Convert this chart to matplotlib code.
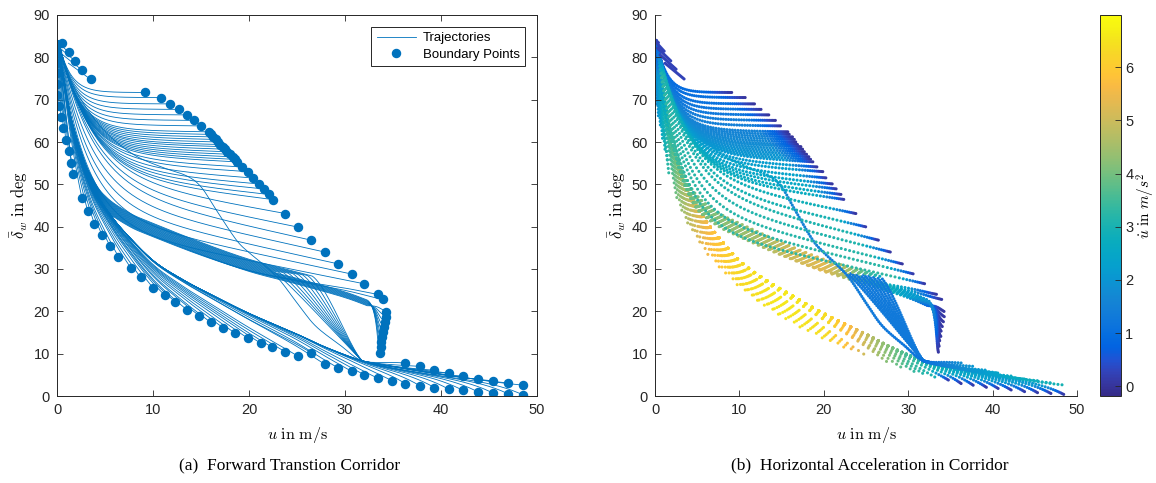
import numpy as np
import matplotlib
matplotlib.use("Agg")
import matplotlib.pyplot as plt
from matplotlib.colors import LinearSegmentedColormap

# ---------------------------------------------------------------- data
start_u, start_d = 0.15, 83.8

# short trajectories at the top-left (start and end)
short_start_u = [0.0, 0.1, 0.3, 0.6, 1.2]
short_start_d = [84.2, 83.6, 82.2, 80.6, 78.6]
short_u = [0.5, 1.2, 1.9, 2.6, 3.5]
short_d = [83.3, 81.2, 79.1, 77.0, 74.8]

# upper fan of trajectories (end points on the upper boundary)
fan_u = [9.2, 10.8, 11.8, 12.7, 13.5, 14.3, 15.0, 15.8, 16.0, 16.3, 16.6, 16.8, 17.0, 17.3,
         17.5, 17.7, 18.0, 18.3, 18.5, 18.8, 19.3, 19.9, 20.4, 21.0, 21.6, 22.1, 22.5,
         23.8, 25.1, 26.5, 27.9, 29.3, 30.7, 32.0]
fan_d = [71.7, 70.5, 69.0, 67.7, 66.4, 65.1, 63.8, 62.4, 61.8, 61.2, 60.6, 60.0, 59.4, 58.9,
         58.3, 57.7, 57.1, 56.5, 55.9, 55.3, 54.1, 53.0, 51.5, 50.1, 48.9, 47.6, 46.4,
         43.1, 39.9, 36.8, 34.0, 31.2, 28.8, 26.5]

# trajectories of the middle band
bandend_u = [33.4, 34.0]
bandend_d = [24.0, 22.8]
cluster_u = [34.3, 34.3, 34.2, 34.1, 34.0, 33.9, 33.8, 33.7, 33.6]
cluster_d = [19.9, 18.7, 17.5, 16.3, 15.1, 14.0, 12.8, 11.6, 10.2]
right_u = [36.3, 37.8, 39.3, 40.8, 42.3, 43.9, 45.4, 47.0, 48.5]
right_d = [7.8, 7.0, 6.1, 5.4, 4.7, 4.0, 3.6, 3.1, 2.6]
cross_branch_u = [22.6, 23.1, 23.6, 24.1, 24.6, 25.1, 25.6, 26.1, 26.6]

# lower boundary end points
low_u = [0.0, 0.0, 0.0, 0.0, 0.0, 0.2, 0.4, 0.65, 0.9, 1.2, 1.5, 1.65, 2.6, 3.2, 3.9, 4.7,
         5.5, 6.4, 7.7, 8.7, 10.0, 11.2, 12.3, 13.5, 14.8, 16.0, 17.3, 18.5, 19.9, 21.2,
         22.4, 23.8, 25.1, 26.5, 27.9, 29.3, 30.7, 32.0, 33.4, 34.9, 36.3, 37.8, 39.3,
         40.8, 42.3, 43.9, 45.4, 47.0, 48.5]
low_d = [81.3, 78.7, 76.4, 73.7, 71.1, 68.5, 66.0, 63.4, 60.5, 57.9, 55.1, 52.4, 46.7, 43.7,
         40.7, 38.0, 35.5, 32.9, 30.2, 28.0, 25.6, 23.9, 22.3, 20.4, 19.0, 17.4, 16.1, 14.9,
         13.6, 12.5, 11.5, 10.4, 9.4, 10.2, 7.5, 6.6, 5.8, 5.0, 4.2, 3.6, 2.9, 2.4, 2.0,
         1.6, 1.3, 0.9, 0.7, 0.5, 0.3]

# one trajectory that leaves the fan and crosses down to the lower band
special_u = [0.15, 1.0, 2.5, 5.0, 8.0, 11.0, 13.5, 15.0, 16.6, 18.7, 20.1, 21.8, 23.2,
             25.3, 27.0, 29.5, 31.8, 35.0, 40.8]
special_d = [83.8, 77.0, 70.0, 62.5, 57.0, 54.0, 52.0, 49.4, 43.9, 36.8, 33.7, 30.5, 27.4,
             21.1, 16.4, 12.0, 8.3, 7.0, 5.4]

# guide curves of the lower and middle bundles
glow_u = [0.15, 0.4, 0.7, 1.0, 1.5, 2.2, 3.0, 4.0, 5.5, 7.0, 10, 13, 16, 20, 25, 28,
          31.8, 35, 40, 45, 49]
glow_d = [83.8, 79.0, 75.0, 71.0, 65.0, 58.5, 53.0, 48.0, 43.0, 38.8, 32.0, 27.6, 24.0,
          19.5, 14.6, 11.5, 8.3, 6.6, 4.9, 3.7, 2.9]
gmid_u = [0.15, 0.5, 0.9, 1.5, 2.5, 3.5, 5.0, 7.5, 10, 15, 20, 25, 30, 33.3, 34.5]
gmid_d = [83.8, 77.0, 72.0, 65.0, 57.0, 51.0, 45.5, 41.5, 39.0, 34.5, 30.5, 27.5, 24.3,
          21.5, 20.5]

# acceleration read along the bundles (colour of the right panel)
lowacc_u = [0, 1, 2, 3, 5, 7, 10, 15, 20, 23, 26, 30, 35, 40, 49]
lowacc_a = [1.5, 2.8, 3.6, 4.3, 5.2, 5.8, 6.3, 6.6, 6.4, 5.7, 4.6, 3.5, 2.6, 2.2, 2.0]
midacc_u = [0, 2, 5, 8, 12, 16, 20, 23, 26, 30, 34]
midacc_a = [1.5, 3.3, 4.0, 4.2, 4.5, 5.0, 5.3, 4.5, 3.2, 2.3, 1.6]
fanacc_d = [26, 40, 50, 60, 72]
fanacc_a = [3.3, 3.0, 2.5, 1.7, 0.9]
crossacc_u = [31.8, 36, 42, 49]
crossacc_a = [1.0, 1.8, 2.6, 3.0]

# shape of the fan trajectories as function of end angle
fanshape_d = [26, 30, 37, 43, 47, 52, 58, 64, 72]
fanshape_s = [0.45, 0.5, 0.5, 0.4, 0.25, 0.15, 0.07, 0.02, 0.0]
fanshape_t = [2.8, 3.0, 3.5, 3.5, 3.4, 3.0, 2.4, 1.8, 1.2]

# how late each lower trajectory leaves the lower bundle
lowshape_u = [0.6, 2, 10, 25, 30, 34, 36, 49]
lowshape_p = [1.0, 1.05, 1.15, 1.8, 4.0, 7.0, 12.0, 16.0]

clim = (-0.18, 6.98)
cb_ticks = [0, 1, 2, 3, 4, 5, 6]
xticks = [0, 10, 20, 30, 40, 50]
yticks = [0, 10, 20, 30, 40, 50, 60, 70, 80, 90]

# ---------------------------------------------------------------- helpers
parula_anchor = [
    (0.2081, 0.1663, 0.5292), (0.2123, 0.2138, 0.6270), (0.1959, 0.2645, 0.7279),
    (0.1253, 0.3242, 0.8303), (0.0117, 0.3875, 0.8820), (0.0165, 0.4266, 0.8786),
    (0.0498, 0.4586, 0.8641), (0.0723, 0.4887, 0.8467), (0.0793, 0.5200, 0.8312),
    (0.0641, 0.5570, 0.8240), (0.0343, 0.5966, 0.8199), (0.0239, 0.6287, 0.8038),
    (0.0228, 0.6535, 0.7768), (0.0384, 0.6743, 0.7436), (0.0843, 0.6928, 0.7062),
    (0.1453, 0.7098, 0.6646), (0.2178, 0.7250, 0.6193), (0.3022, 0.7376, 0.5712),
    (0.3953, 0.7459, 0.5244), (0.4871, 0.7491, 0.4840), (0.5709, 0.7485, 0.4494),
    (0.6473, 0.7456, 0.4188), (0.7184, 0.7411, 0.3905), (0.7858, 0.7356, 0.3633),
    (0.8507, 0.7299, 0.3360), (0.9139, 0.7258, 0.3063), (0.9739, 0.7314, 0.2666),
    (0.9990, 0.7653, 0.2164), (0.9880, 0.8066, 0.1794), (0.9697, 0.8481, 0.1475),
    (0.9589, 0.8949, 0.1132), (0.9661, 0.9514, 0.0755), (0.9763, 0.9831, 0.0538)]
parula = LinearSegmentedColormap.from_list("parula", parula_anchor)

PXU, PXD = 8.44, 4.233   # pixel per unit (for dot spacing)


def catmull(x, y, n=20):
    P = np.column_stack([x, y]).astype(float)
    P = np.vstack([2 * P[0] - P[1], P, 2 * P[-1] - P[-2]])
    out = []
    t = np.linspace(0, 1, n, endpoint=False)[:, None]
    for i in range(1, len(P) - 2):
        p0, p1, p2, p3 = P[i - 1], P[i], P[i + 1], P[i + 2]
        out.append(0.5 * ((2 * p1) + (-p0 + p2) * t + (2 * p0 - 5 * p1 + 4 * p2 - p3) * t ** 2
                          + (-p0 + 3 * p1 - 3 * p2 + p3) * t ** 3))
    out.append(P[-2][None])
    return np.vstack(out)


def guide(us, ds):
    c = catmull(us, ds)
    order = np.argsort(c[:, 0])
    cu, cd = c[order, 0], c[order, 1]
    return lambda u: np.interp(u, cu, cd)


def bez(p0, p1, p2, p3, n=60):
    t = np.linspace(0, 1, n)[:, None]
    p0, p1, p2, p3 = map(np.asarray, (p0, p1, p2, p3))
    return (1 - t) ** 3 * p0 + 3 * (1 - t) ** 2 * t * p1 + 3 * (1 - t) * t ** 2 * p2 + t ** 3 * p3


def ugrid(u0, u1, n=220):
    t = np.linspace(0, 1, n)
    return u0 + (u1 - u0) * t ** 1.6


def start_ramp(d):
    return np.clip((start_d - d) / 8.0, 0.3, 1.0)


def arclen(path):
    seg = np.hypot(np.diff(path[:, 0]) * PXU, np.diff(path[:, 1]) * PXD)
    s = np.concatenate([[0], np.cumsum(seg)])
    return s, s[-1] - s


G_low = guide(glow_u, glow_d)
G_mid = guide(gmid_u, gmid_d)

trajs = []   # (path, acc)

# lower family
for xe, ye in zip(low_u, low_d):
    if xe < 0.5:
        path = np.column_stack([np.linspace(start_u, xe, 30), np.linspace(start_d, ye, 30)])
    else:
        u = ugrid(start_u, xe)
        p = np.interp(xe, lowshape_u, lowshape_p)
        d = G_low(u) + (ye - G_low(xe)) * ((u - start_u) / (xe - start_u)) ** p
        path = np.column_stack([u, d])
    a = np.interp(path[:, 0], lowacc_u, lowacc_a) * start_ramp(path[:, 1])
    if xe > 34.5:
        _, rem = arclen(path)
        a = a * np.clip(rem / 22.0, 0.03, 1.0)
    trajs.append((path, a))

# middle band family
offs = np.linspace(-1.4, 1.8, len(bandend_u) + len(cluster_u) + len(cross_branch_u))
k = 0
for xe, ye in zip(bandend_u, bandend_d):
    u = ugrid(start_u, xe)
    off = offs[k] * np.clip(u / 5, 0, 1)
    d = G_mid(u) + off + (ye - G_mid(xe) - offs[k]) * ((u - start_u) / (xe - start_u)) ** 4
    k += 1
    path = np.column_stack([u, d])
    a = np.interp(u, midacc_u, midacc_a) * start_ramp(d)
    _, rem = arclen(path)
    a = a * np.clip(rem / 30.0, 0.05, 1.0)
    trajs.append((path, a))

for xe, ye in zip(cluster_u, cluster_d):
    u = ugrid(start_u, 32.3)
    d = G_mid(u) + offs[k] * np.clip(u / 5, 0, 1)
    k += 1
    tail = bez((32.3, d[-1]), (33.4, 21.3), (33.35, ye + 1.2), (xe, ye), 40)
    path = np.vstack([np.column_stack([u, d]), tail[1:]])
    a = np.interp(path[:, 0], midacc_u, midacc_a) * start_ramp(path[:, 1])
    _, rem = arclen(path)
    a = a * np.clip(rem / 45.0, 0.05, 1.0)
    trajs.append((path, a))

for (xe, ye), ub in zip(zip(right_u, right_d), cross_branch_u):
    u = ugrid(start_u, ub)
    d = G_mid(u) + offs[k] * np.clip(u / 5, 0, 1)
    k += 1
    down = bez((ub, d[-1]), (ub + 1.6, d[-1] - 2.5), (30.6, 10.8), (31.8, 8.3), 50)
    out = bez((31.8, 8.3), (33.0, 7.6), (xe - 3.0, ye + 0.4), (xe, ye), 50)
    path = np.vstack([np.column_stack([u, d]), down[1:], out[1:]])
    a = np.interp(path[:, 0], midacc_u, midacc_a) * start_ramp(path[:, 1])
    n0 = len(u)
    a[n0:n0 + 49] = 1.3
    a[n0 + 49:] = np.interp(path[n0 + 49:, 0], crossacc_u, crossacc_a)
    trajs.append((path, a))

# special crossing trajectory
sp = catmull(special_u, special_d, 14)
a_sp = np.interp(sp[:, 0], [0, 5, 12, 16, 22, 31.8, 41], [1.5, 2.6, 2.6, 1.6, 1.4, 1.1, 2.5])
trajs.append((sp, a_sp * start_ramp(sp[:, 1])))

# upper fan family
for xe, ye in zip(fan_u, fan_d):
    s = np.interp(ye, fanshape_d, fanshape_s)
    tau = np.interp(ye, fanshape_d, fanshape_t)
    u = ugrid(start_u, xe)
    A = start_d - ye - s * (xe - start_u)
    e_end = np.exp(-(xe - start_u) / tau)
    f = (np.exp(-(u - start_u) / tau) - e_end) / (1 - e_end)
    d = ye + s * (xe - u) + A * f
    path = np.column_stack([u, d])
    amid = np.interp(ye, fanacc_d, fanacc_a)
    a = amid * np.clip((xe - u) / 3.5, 0.02, 1.0) * start_ramp(d)
    trajs.append((path, a))

# short top-left trajectories
for u0, d0, xe, ye in zip(short_start_u, short_start_d, short_u, short_d):
    path = np.column_stack([np.linspace(u0, xe, 30), np.linspace(d0, ye, 30)])
    trajs.append((path, np.full(30, 0.25)))

# dots along the trajectories (equal time steps: spacing grows with acceleration)
dot_u, dot_d, dot_a = [], [], []
for path, a in trajs:
    s, _ = arclen(path)
    pos = 0.0
    while pos <= s[-1]:
        ai = np.interp(pos, s, a)
        dot_u.append(np.interp(pos, s, path[:, 0]))
        dot_d.append(np.interp(pos, s, path[:, 1]))
        dot_a.append(ai)
        pos += 1.3 + 0.95 * ai

# ---------------------------------------------------------------- figure
plt.rcParams["font.family"] = ["Liberation Sans", "DejaVu Sans"]
plt.rcParams["mathtext.fontset"] = "cm"
axcol = "#262626"

fig = plt.figure(figsize=(11.56, 4.83), dpi=100)
ax1 = fig.add_axes([57 / 1156, 87 / 483, 480 / 1156, 381 / 483])
ax2 = fig.add_axes([655 / 1156, 87 / 483, 422 / 1156, 381 / 483])
cax = fig.add_axes([1100 / 1156, 87 / 483, 21 / 1156, 381 / 483])

blue = "#0072BD"
for i, (path, a) in enumerate(trajs):
    ax1.plot(path[:, 0], path[:, 1], color=blue, lw=0.6,
             label="Trajectories" if i == 0 else None)
bu = short_u + fan_u + bandend_u + cluster_u + right_u + low_u
bd = short_d + fan_d + bandend_d + cluster_d + right_d + low_d
ax1.plot(bu, bd, "o", color=blue, ms=5.8, mec=blue, ls="none", label="Boundary Points")

sc = ax2.scatter(dot_u, dot_d, c=dot_a, cmap=parula, vmin=clim[0], vmax=clim[1],
                 s=4.8, linewidths=0)

for ax in (ax1, ax2):
    ax.set_xlim(0, 50)
    ax.set_ylim(0, 90)
    ax.set_xticks(xticks)
    ax.set_yticks(yticks)
    ax.tick_params(direction="in", length=4.5, width=0.6, colors=axcol, labelsize=10.5,
                   labelcolor=axcol, pad=5)
    for sp_ in ax.spines.values():
        sp_.set_color(axcol)
        sp_.set_linewidth(0.7)
    ax.set_xlabel(r"$u\ \mathrm{in\ m/s}$", fontsize=11.5, labelpad=6)
    ax.set_ylabel(r"$\bar{\delta}_w\ \mathrm{in\ deg}$", fontsize=12, labelpad=3)

ax1.tick_params(top=True, right=True)
ax2.spines["top"].set_visible(False)
ax2.spines["right"].set_visible(False)

leg = ax1.legend(loc="upper right", fontsize=9.5, frameon=True, fancybox=False,
                 edgecolor=axcol, framealpha=1, handlelength=3.0, borderaxespad=0.9,
                 handletextpad=0.5, borderpad=0.4, labelspacing=0.3)
leg.get_frame().set_linewidth(0.7)

cb = fig.colorbar(sc, cax=cax, ticks=cb_ticks)
cb.outline.set_linewidth(0.7)
cb.outline.set_edgecolor(axcol)
cax.tick_params(direction="in", length=4, width=0.6, colors=axcol, labelsize=10.5,
                labelcolor=axcol, pad=3)
cb.set_label(r"$\dot{u}\ \mathrm{in}\ m/s^2$", fontsize=11, labelpad=1)

fig.text(290 / 1156, 0.037, "(a)  Forward Transtion Corridor", ha="center", va="center",
         family="Liberation Serif", fontsize=12.5)
fig.text(870 / 1156, 0.037, "(b)  Horizontal Acceleration in Corridor", ha="center",
         va="center", family="Liberation Serif", fontsize=12.5)

fig.savefig("out.png", dpi=100)
